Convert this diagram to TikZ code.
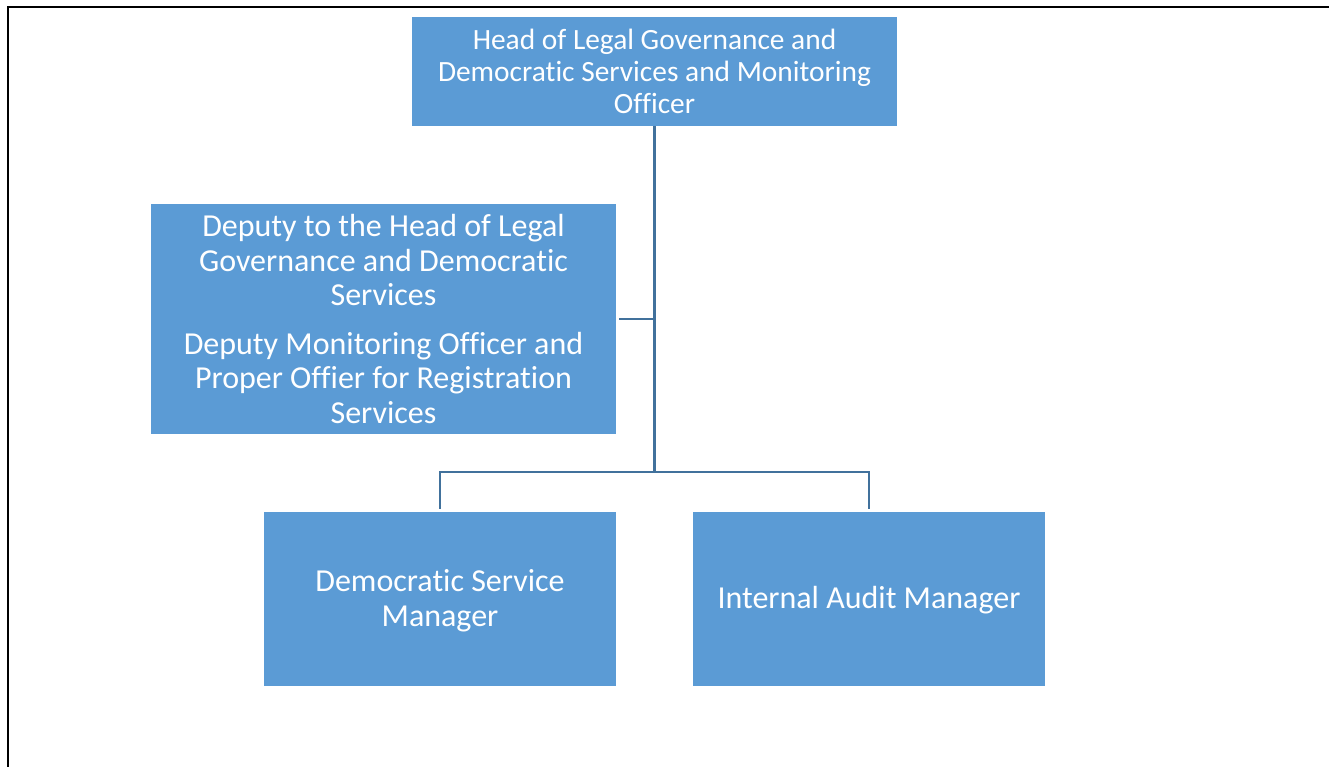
\documentclass[tikz,border=0pt]{standalone}
\usepackage{fontspec}
\setmainfont[Ligatures=NoCommon]{Carlito}
\definecolor{boxblue}{HTML}{5B9BD5}
\definecolor{linkblue}{HTML}{41719C}
\usetikzlibrary{positioning}

\begin{document}
\begin{tikzpicture}[x=1pt, y=-1pt,
    unit/.style={fill=boxblue, text=white, align=center, inner sep=0pt},
    link/.style={draw=linkblue, line width=2.8pt}]
    \useasboundingbox (0,0) rectangle (1329,767);
    % frame (top and left edges only)
    \draw[line width=2.2pt] (8,767) -- (8,7) -- (1329,7);

    % boxes
    \node[unit, minimum width=485pt, minimum height=109pt, font=\fontsize{29.4}{32}\selectfont]
        (head) at (654.5,71.5) {Head of Legal Governance and\\Democratic Services and Monitoring\\Officer};
    \node[unit, minimum width=465pt, minimum height=230pt, font=\fontsize{32}{34.5}\selectfont]
        (deputy) at (383.5,319) {Deputy to the Head of Legal\\Governance and Democratic\\Services\\[14pt]Deputy Monitoring Officer and\\Proper Offier for Registration\\Services};
    \node[unit, minimum width=352pt, minimum height=174pt, font=\fontsize{32}{35}\selectfont]
        (dsm) at (440,599) {};
    \node[unit, minimum width=352pt, minimum height=174pt, font=\fontsize{32}{35}\selectfont]
        (iam) at (869,599) {};
    \node[text=white, align=center, font=\fontsize{32}{35}\selectfont] (dsmtext) at (440,601) {Democratic Service\\Manager};
    \node[text=white, align=center, font=\fontsize{32}{35}\selectfont] (iamtext) at (869,600.5) {Internal Audit Manager};

    % reporting lines
    \coordinate (split) at (head.south |- 0,472);
    \draw[link] (head.south) -- (split);
    \draw[link] ([yshift=3pt]dsm.north) |- (split) -| ([yshift=3pt]iam.north);
    \draw[link] ([xshift=3pt]deputy.east) -- (deputy.east -| head.south);
\end{tikzpicture}
\end{document}
